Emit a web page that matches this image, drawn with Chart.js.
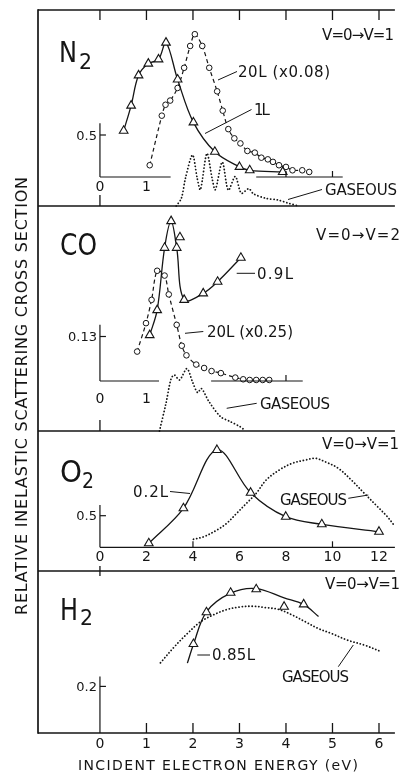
<!DOCTYPE html>
<html><head><meta charset="utf-8">
<script src="https://cdn.jsdelivr.net/npm/chart.js@4/dist/chart.umd.min.js"></script>
<style>html,body{margin:0;padding:0;background:#fff;}canvas{display:block;}</style>
</head><body>
<canvas id="c" width="401" height="772"></canvas>
<script>
// ---------------- DATA ----------------
// energy axis ticks (eV) and O2 panel ticks
const energyTicks = [0, 1, 2, 3, 4, 5, 6];
const energyTickLabels = ['0', '1', '2', '3', '4', '5', '6'];
const o2Ticks = [0, 2, 4, 6, 8, 10, 12];
const o2TickLabels = ['0', '2', '4', '6', '8', '10', '12'];

// N2  v=0 -> v=1
const n2Energy1L = [0.51, 0.67, 0.83, 1.04, 1.26, 1.42, 1.67, 2.01, 2.47, 3.00, 3.22, 3.93];
const n2Cross1L  = [0.55, 0.85, 1.21, 1.35, 1.40, 1.60, 1.16, 0.65, 0.30, 0.12, 0.08, 0.06];
const n2Energy20L = [1.07, 1.33, 1.41, 1.51, 1.67, 1.81, 1.94, 2.04, 2.20, 2.35, 2.52, 2.64, 2.76, 2.89, 3.02, 3.17, 3.33, 3.47, 3.61, 3.72, 3.85, 4.00, 4.14, 4.35, 4.50];
const n2Cross20L  = [0.14, 0.73, 0.86, 0.91, 1.06, 1.30, 1.56, 1.70, 1.56, 1.30, 1.02, 0.79, 0.57, 0.46, 0.40, 0.31, 0.29, 0.23, 0.21, 0.18, 0.14, 0.12, 0.08, 0.08, 0.06];
const n2EnergyGas = [1.64, 1.75, 1.84, 1.99, 2.09, 2.16, 2.30, 2.41, 2.48, 2.63, 2.76, 2.91, 3.04, 3.20, 3.30, 3.57, 3.82, 4.07, 4.28];
const n2CrossGas  = [0.00, 0.15, 0.55, 1.00, 0.55, 0.32, 1.03, 0.55, 0.32, 0.86, 0.31, 0.58, 0.25, 0.34, 0.24, 0.15, 0.12, 0.05, 0.00];

// CO  v=0 -> v=2
const coEnergy09L = [1.07, 1.23, 1.39, 1.53, 1.65, 1.81, 2.22, 2.53, 3.03];
const coCross09L  = [0.134, 0.207, 0.389, 0.467, 0.389, 0.237, 0.256, 0.290, 0.360];
const coEnergy09LExtra = [1.72];
const coCross09LExtra  = [0.42];
const coEnergy20L = [0.80, 0.99, 1.11, 1.23, 1.39, 1.48, 1.65, 1.76, 1.86, 2.07, 2.24, 2.40, 2.60, 2.91, 3.08, 3.22, 3.36, 3.50, 3.64];
const coCross20L  = [0.086, 0.169, 0.237, 0.322, 0.308, 0.253, 0.164, 0.103, 0.075, 0.048, 0.038, 0.029, 0.023, 0.010, 0.005, 0.003, 0.003, 0.003, 0.003];
const coEnergyGas = [1.28, 1.42, 1.53, 1.60, 1.71, 1.87, 1.99, 2.10, 2.18, 2.35, 2.59, 2.80, 3.01, 3.12];
const coCrossGas  = [0.00, 0.44, 0.83, 0.89, 0.81, 0.99, 0.78, 0.61, 0.675, 0.46, 0.23, 0.15, 0.07, 0.01];

// O2  v=0 -> v=1 (own energy scale 0..12)
const o2Energy02L = [2.10, 3.59, 5.03, 6.48, 7.99, 9.54, 12.0];
const o2Cross02L  = [0.063, 0.617, 1.54, 0.864, 0.484, 0.364, 0.247];
const o2EnergyGas = [4.02, 4.47, 5.03, 5.45, 5.88, 6.30, 6.72, 7.15, 7.71, 8.27, 8.84, 9.26, 9.68, 10.25, 10.81, 11.37, 11.94, 12.36, 12.64];
const o2CrossGas  = [0.127, 0.168, 0.274, 0.38, 0.538, 0.696, 0.854, 1.065, 1.223, 1.329, 1.381, 1.408, 1.354, 1.25, 1.065, 0.854, 0.642, 0.484, 0.353];

// H2  v=0 -> v=1
const h2Energy085L = [2.01, 2.29, 2.81, 3.36, 3.96, 4.38];
const h2Cross085L  = [0.382, 0.518, 0.602, 0.617, 0.542, 0.552];
const h2EnergyFit  = [1.88, 2.01, 2.29, 2.81, 3.36, 3.96, 4.38, 4.70];
const h2CrossFit   = [0.30, 0.38, 0.52, 0.60, 0.62, 0.58, 0.552, 0.50];
const h2EnergyGas = [1.30, 1.60, 1.88, 2.16, 2.45, 2.73, 3.01, 3.29, 3.57, 3.85, 4.14, 4.42, 4.70, 4.98, 5.33, 5.69, 6.06];
const h2CrossGas  = [0.301, 0.370, 0.427, 0.477, 0.508, 0.530, 0.541, 0.544, 0.538, 0.530, 0.506, 0.477, 0.448, 0.427, 0.398, 0.377, 0.348];

// ---------------- LAYOUT / STYLE ----------------
const INK = '#151515';
const FONT = '"DejaVu Sans", "Liberation Sans", sans-serif';
const TOP = 10, BOTTOM = 733;
function band(p0, k) { return { min: (p0 - BOTTOM) / k, max: (p0 - TOP) / k }; }
const pts = (E, V) => E.map((e, i) => ({ x: e, y: V[i] }));

const base = { showLine: true, fill: false, borderColor: INK, backgroundColor: '#fff',
  pointBorderColor: INK, pointBackgroundColor: '#fff', pointRadius: 0, pointHoverRadius: 0 };
const solid  = { borderWidth: 1.3, tension: 0.35 };
const dashed = { borderWidth: 1.2, borderDash: [4, 3], tension: 0.3 };
const dotted = { borderWidth: 1.8, borderDash: [0.1, 3.2], borderCapStyle: 'round', tension: 0.35 };
const tri  = { pointStyle: 'triangle', pointRadius: 5, pointBorderWidth: 1.1 };
const circ = { pointStyle: 'circle', pointRadius: 2.8, pointBorderWidth: 1 };
function ds(label, E, V, xId, yId, ...styles) {
  return Object.assign({ label, data: pts(E, V), xAxisID: xId, yAxisID: yId }, base, ...styles);
}

const datasets = [
  ds('N2 1L', n2Energy1L, n2Cross1L, 'x', 'yN2', solid, tri),
  ds('N2 20L (x0.08)', n2Energy20L, n2Cross20L, 'x', 'yN2', dashed, circ),
  ds('CO 0.9L', coEnergy09L, coCross09L, 'x', 'yCO', solid, tri),
  ds('CO 0.9L extra', coEnergy09LExtra, coCross09LExtra, 'x', 'yCO', tri, { showLine: false }),
  ds('CO 20L (x0.25)', coEnergy20L, coCross20L, 'x', 'yCO', dashed, circ),
  ds('O2 0.2L', o2Energy02L, o2Cross02L, 'xO2', 'yO2', solid, tri),
  ds('H2 0.85L', h2Energy085L, h2Cross085L, 'x', 'yH2', tri, { showLine: false }),
  ds('H2 0.85L curve', h2EnergyFit, h2CrossFit, 'x', 'yH2', solid),
  ds('N2 gaseous', n2EnergyGas, n2CrossGas, 'x', 'yN2g', dotted, { tension: 0.3 }),
  ds('CO gaseous', coEnergyGas, coCrossGas, 'x', 'yCOg', dotted, { tension: 0.3 }),
  ds('O2 gaseous', o2EnergyGas, o2CrossGas, 'xO2', 'yO2', dotted),
  ds('H2 gaseous', h2EnergyGas, h2CrossGas, 'x', 'yH2', dotted),
];

function yAxis(b) { return Object.assign({ type: 'linear', axis: 'y', position: 'left', display: false }, b); }

// ---------------- DRAWING HELPERS ----------------
function line(ctx, x1, y1, x2, y2) { ctx.beginPath(); ctx.moveTo(x1, y1); ctx.lineTo(x2, y2); ctx.stroke(); }
function fitText(ctx, text, left, cy, width, size) {
  ctx.save();
  ctx.font = size + 'px ' + FONT;
  ctx.textAlign = 'left'; ctx.textBaseline = 'alphabetic';
  ctx.letterSpacing = '0px';
  const w = ctx.measureText(text).width;
  const n = [...text].length;
  let ls = n > 1 ? (width - w) / (n - 1) : 0;
  ls = Math.max(-2, Math.min(9, ls));
  ctx.letterSpacing = ls + 'px';
  ctx.fillText(text, left, cy + 0.365 * size);
  ctx.restore();
}
function centerText(ctx, text, cx, cy, size) {
  ctx.save();
  ctx.font = size + 'px ' + FONT;
  ctx.textAlign = 'center'; ctx.textBaseline = 'alphabetic';
  ctx.fillText(text, cx, cy + 0.365 * size);
  ctx.restore();
}
function rightText(ctx, text, rx, cy, size) {
  ctx.save();
  ctx.font = size + 'px ' + FONT;
  ctx.textAlign = 'right'; ctx.textBaseline = 'alphabetic';
  ctx.fillText(text, rx, cy + 0.365 * size);
  ctx.restore();
}
function scaledText(ctx, text, left, baseline, size, width) {
  ctx.save();
  ctx.font = size + 'px ' + FONT;
  ctx.textAlign = 'left'; ctx.textBaseline = 'alphabetic';
  const w = ctx.measureText(text).width;
  ctx.translate(left, baseline);
  ctx.scale(width / w, 1);
  ctx.fillText(text, 0, 0);
  ctx.restore();
}

const annotations = [
  ['V=0\u2192V=1', 322, 35, 72], ['20L (x0.08)', 238, 72, 92], ['1L', 254, 110, 15], ['GASEOUS', 325, 189.5, 72],
  ['V=0\u2192V=2', 316, 235, 84], ['0.9L', 257, 274, 36], ['20L (x0.25)', 207, 332, 86], ['GASEOUS', 260, 403.5, 70],
  ['V=0\u2192V=1', 322, 444, 77], ['0.2L', 133, 492, 35], ['GASEOUS', 280, 500, 67],
  ['V=0\u2192V=1', 325, 584, 75], ['0.85L', 212, 655, 43], ['GASEOUS', 282, 677, 67],
];
const leaders = [
  [218, 80, 237, 71.5], [205, 133.5, 251.5, 109.5], [288, 199.5, 322, 189.5],
  [236.7, 273.3, 255, 273.3], [185, 333.3, 203.3, 331.5], [226.7, 408.3, 256.7, 403.3],
  [170, 491.5, 190, 493.5], [348.3, 498.3, 368.3, 495],
  [197.3, 655, 210, 655], [338.3, 666.7, 353.3, 645],
];

const deco = {
  id: 'deco',
  afterDatasetsDraw(chart) {
    const { ctx, chartArea: a, scales: s } = chart;
    const X = v => s.x.getPixelForValue(v);
    const XO = v => s.xO2.getPixelForValue(v);
    ctx.save();
    ctx.strokeStyle = INK; ctx.fillStyle = INK; ctx.lineCap = 'butt';

    // outer frame and panel dividers
    ctx.lineWidth = 1.7;
    line(ctx, a.left, a.top, a.right, a.top);
    line(ctx, a.left, a.top - 0.8, a.left, a.bottom + 0.8);
    line(ctx, a.left, a.bottom, a.right, a.bottom);
    ctx.lineWidth = 1.4;
    const dividers = [s.yN2g.getPixelForValue(0), s.yCOg.getPixelForValue(0), 571];
    dividers.forEach(y => line(ctx, a.left, y, a.right, y));

    // frame ticks
    ctx.lineWidth = 1.3;
    energyTicks.forEach(v => line(ctx, X(v), a.top, X(v), a.top + 10));
    energyTicks.slice(1).forEach(v => line(ctx, X(v), a.bottom, X(v), a.bottom - 10));
    line(ctx, X(0), dividers[0] - 11, X(0), dividers[0]);
    line(ctx, X(0), dividers[1] - 11, X(0), dividers[1]);
    line(ctx, X(0), dividers[2] - 5, X(0), dividers[2] + 5);
    energyTicks.forEach((v, i) => centerText(ctx, energyTickLabels[i], X(v), 743, 14));

    // ---- inner axes
    ctx.lineWidth = 1.2;
    // N2
    let y0 = s.yN2.getPixelForValue(0), x0 = X(0);
    line(ctx, x0, y0, x0, s.yN2.getPixelForValue(0.64));
    let yt = s.yN2.getPixelForValue(0.5);
    line(ctx, x0, yt, x0 + 6, yt); rightText(ctx, '0.5', x0 - 3, yt, 13);
    [[0, 1.52], [3.36, 5.22]].forEach(([p, q]) => line(ctx, X(p), y0, X(q), y0));
    [4, 5].forEach(v => line(ctx, X(v), y0, X(v), y0 - 6));
    centerText(ctx, '0', X(0), y0 + 9, 14); centerText(ctx, '1', X(1), y0 + 9, 14);
    // CO
    y0 = s.yCO.getPixelForValue(0);
    line(ctx, x0, y0, x0, s.yCO.getPixelForValue(0.164));
    yt = s.yCO.getPixelForValue(0.13);
    line(ctx, x0, yt, x0 + 6, yt); rightText(ctx, '0.13', x0 - 3, yt, 13);
    [[0, 1.27], [2.39, 4.36]].forEach(([p, q]) => line(ctx, X(p), y0, X(q), y0));
    [4].forEach(v => line(ctx, X(v), y0, X(v), y0 - 6));
    centerText(ctx, '0', X(0), y0 + 17, 14); centerText(ctx, '1', X(1), y0 + 17, 14);
    // O2
    y0 = s.yO2.getPixelForValue(0);
    line(ctx, x0, y0, x0, s.yO2.getPixelForValue(0.67));
    yt = s.yO2.getPixelForValue(0.5);
    line(ctx, x0, yt, x0 + 6, yt); rightText(ctx, '0.5', x0 - 3, yt, 13);
    line(ctx, XO(0), y0, a.right, y0);
    [4, 10].forEach(v => line(ctx, XO(v), y0, XO(v), y0 - 6));
    o2Ticks.forEach((v, i) => centerText(ctx, o2TickLabels[i], XO(v), y0 + 9, 14));
    // H2
    y0 = s.yH2.getPixelForValue(0);
    line(ctx, x0, y0, x0, s.yH2.getPixelForValue(0.242));
    yt = s.yH2.getPixelForValue(0.2);
    line(ctx, x0, yt, x0 + 6, yt); rightText(ctx, '0.2', x0 - 3, yt, 13);

    // ---- molecule names
    scaledText(ctx, 'N', 59, 62, 28, 18); scaledText(ctx, '2', 79, 68.5, 21, 13);
    scaledText(ctx, 'CO', 60, 255, 30, 37);
    scaledText(ctx, 'O', 60, 482, 30, 22); scaledText(ctx, '2', 82, 488, 21, 12);
    scaledText(ctx, 'H', 60, 620, 30, 18); scaledText(ctx, '2', 80, 625, 21, 13);

    // ---- annotations and leader lines
    ctx.lineWidth = 1;
    leaders.forEach(([p, q, r, t]) => line(ctx, p, q, r, t));
    annotations.forEach(([t, l, cy, w]) => fitText(ctx, t, l, cy, w, 15));

    // ---- axis titles
    fitText(ctx, 'INCIDENT ELECTRON ENERGY (eV)', 78, 765, 280, 14);
    ctx.save();
    ctx.translate(21, 396); ctx.rotate(-Math.PI / 2);
    fitText(ctx, 'RELATIVE INELASTIC SCATTERING CROSS SECTION', -219, 0, 438, 16);
    ctx.restore();
    ctx.restore();
  }
};

new Chart(document.getElementById('c'), {
  type: 'scatter',
  data: { datasets },
  options: {
    responsive: false, animation: false, devicePixelRatio: 1, events: [],
    layout: { padding: { left: 38, top: 10, right: 0, bottom: 39 } },
    plugins: { legend: { display: false }, tooltip: { enabled: false } },
    scales: {
      x:   { type: 'linear', axis: 'x', position: 'bottom', display: false, min: -1.332, max: 6.342 },
      xO2: { type: 'linear', axis: 'x', position: 'bottom', display: false, min: -2.664, max: 12.684 },
      yN2:  yAxis(band(177, 84)),
      yN2g: yAxis(band(206, 51)),
      yCO:  yAxis(band(381, 342.3)),
      yCOg: yAxis(band(431, 63)),
      yO2:  yAxis(band(547.3, 63.2)),
      yH2:  yAxis(band(733, 233)),
    }
  },
  plugins: [deco]
});
</script>
</body></html>
